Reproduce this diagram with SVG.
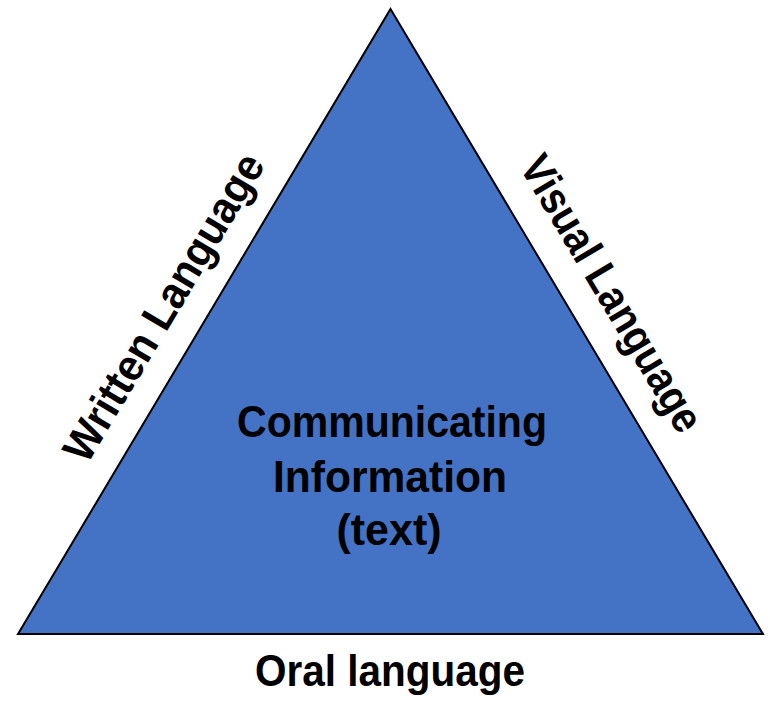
<svg xmlns="http://www.w3.org/2000/svg" width="770" height="701" viewBox="0 0 770 701">
  <style>
    .lbl { font-family: "Liberation Sans", Arial, sans-serif; font-weight: bold; font-size: 44px; fill: #000000; text-anchor: middle; }
    .tri { fill: #4472C4; stroke: #000000; stroke-width: 2; stroke-linejoin: miter; }
  </style>
  <rect x="0" y="0" width="770" height="701" fill="#ffffff"/>
  <g id="triangle">
    <polygon class="tri" points="390.5,9 763,634 18,634"/>
    <text class="lbl" x="392" y="437" textLength="310" lengthAdjust="spacingAndGlyphs">Communicating</text>
    <text class="lbl" x="390" y="492" textLength="234" lengthAdjust="spacingAndGlyphs">Information</text>
    <text class="lbl" x="389" y="545" textLength="105" lengthAdjust="spacingAndGlyphs">(text)</text>
  </g>
  <g id="written-language">
    <text class="lbl" transform="translate(176.5,315) rotate(-59.2)" x="0" y="0" textLength="350" lengthAdjust="spacingAndGlyphs">Written Language</text>
  </g>
  <g id="visual-language">
    <text class="lbl" transform="translate(599,301) rotate(59.2)" x="0" y="0" textLength="314" lengthAdjust="spacingAndGlyphs">Visual Language</text>
  </g>
  <g id="oral-language">
    <text class="lbl" x="390" y="686" textLength="270" lengthAdjust="spacingAndGlyphs">Oral language</text>
  </g>
  <g id="connectors"></g>
</svg>
